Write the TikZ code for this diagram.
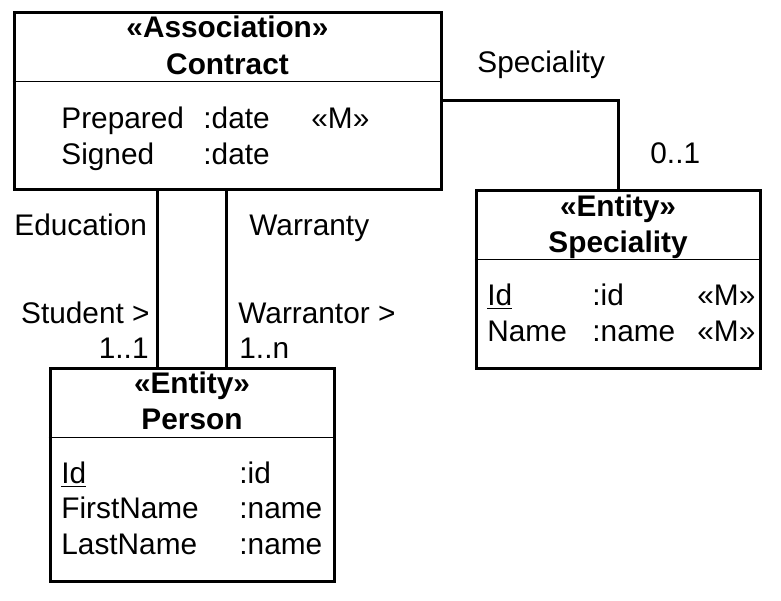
\documentclass[tikz,border=0pt]{standalone}
\usepackage{fontspec}
\setmainfont{Liberation Sans}

\begin{document}
\begin{tikzpicture}[x=0.5pt, y=-0.5pt, font=\fontsize{14.9}{18}\selectfont,
  box/.style={draw, line width=1.5pt, inner sep=0pt},
  txt/.style={anchor=base west, inner sep=0pt},
  ttl/.style={anchor=base, inner sep=0pt, font=\fontsize{14.9}{18}\selectfont\bfseries},
  divider/.style={line width=0.8pt},
  link/.style={line width=1.5pt}]
\useasboundingbox (0,0) rectangle (781,600);

\node [box, minimum width=213.5pt, minimum height=88.5pt] (contract) at (227.5,100.5) {};
\node [box, minimum width=142pt, minimum height=89pt] (speciality) at (618,279) {};
\node [box, minimum width=142pt, minimum height=106.5pt] (person) at (192,474.5) {};

\foreach \n in {contract,speciality,person}
  \draw [divider] ([yshift=-35.5pt]\n.north west) -- ([yshift=-35.5pt]\n.north east);

% Contract
\node [ttl] (contractstereo) at (227.5,37) {«Association»};
\node [ttl] (contractname) at (227.5,74) {Contract};
\node [txt] (prepared) at (61,128) {Prepared};
\node [txt] (preparedtype) at (203,128) {:date};
\node [txt] (preparedm) at (311,128) {«M»};
\node [txt] (signed) at (61,164) {Signed};
\node [txt] (signedtype) at (203,164) {:date};

% Speciality
\node [ttl] (specstereo) at (618,216) {«Entity»};
\node [ttl] (specname) at (618,252) {Speciality};
\node [txt] (specid) at (487,305) {\underline{Id}};
\node [txt] (specidtype) at (592,305) {:id};
\node [txt] (specidm) at (697,305) {«M»};
\node [txt] (specnm) at (487,341) {Name};
\node [txt] (specnmtype) at (592,341) {:name};
\node [txt] (specnmm) at (697,341) {«M»};

% Person
\node [ttl] (personstereo) at (192,393) {«Entity»};
\node [ttl] (personname) at (192,429) {Person};
\node [txt] (personid) at (61,483) {\underline{Id}};
\node [txt] (personidtype) at (239,483) {:id};
\node [txt] (firstname) at (61,518) {FirstName};
\node [txt] (firstnametype) at (239,518) {:name};
\node [txt] (lastname) at (61,554) {LastName};
\node [txt] (lastnametype) at (239,554) {:name};

% links
\draw [link] (contract.east) -| (speciality.north);
\draw [link] ([xshift=54.5pt]person.north west) -- ([xshift=54.5pt]person.north west |- contract.south);
\draw [link] ([xshift=89pt]person.north west) -- ([xshift=89pt]person.north west |- contract.south);

\node [txt] (speclabel) at (477,72) {Speciality};
\node [txt] (specmult) at (650,163) {0..1};
\node [txt] (edulabel) at (14,235) {Education};
\node [txt] (warlabel) at (249,235) {Warranty};
\node [anchor=base east, inner sep=0pt] (studentrole) at (150,323) {Student >};
\node [anchor=base east, inner sep=0pt] (studentmult) at (149,358) {1..1};
\node [txt] (warrole) at (238,323) {Warrantor >};
\node [txt] (warmult) at (239,358) {1..n};
\end{tikzpicture}
\end{document}
